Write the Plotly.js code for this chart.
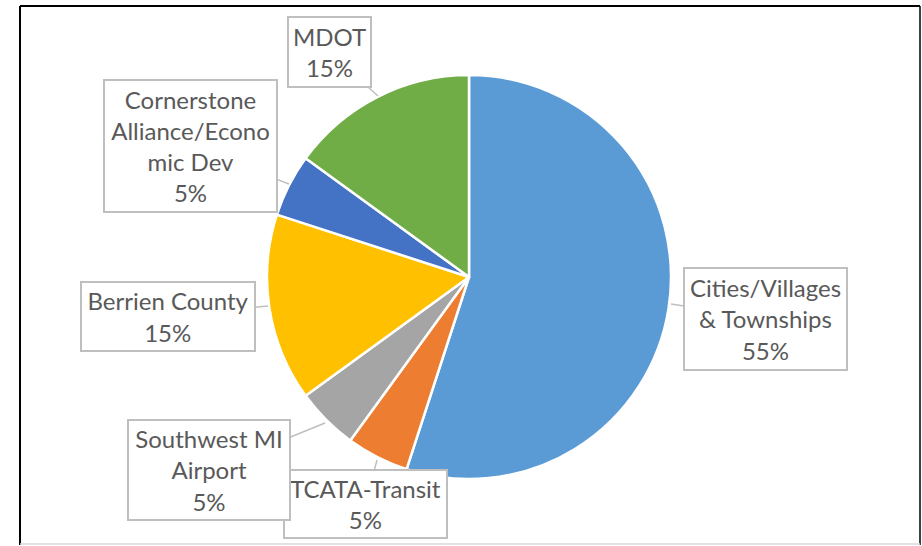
<!DOCTYPE html>
<html>
<head>
<meta charset="utf-8">
<script src="https://cdn.plot.ly/plotly-3.0.1.min.js"></script>
<style>
  html, body { margin: 0; padding: 0; background: #ffffff; }
  #chart { width: 922px; height: 546px; }
</style>
</head>
<body>
<div id="chart"></div>
<script>
// ---- data ----
const categories = [
  'Cities/Villages & Townships',
  'TCATA-Transit',
  'Southwest MI Airport',
  'Berrien County',
  'Cornerstone Alliance/Economic Dev',
  'MDOT'
];
const values = [55, 5, 5, 15, 5, 15];
// label text as wrapped in the reference callouts
const labelLines = [
  ['Cities/Villages', '& Townships'],
  ['TCATA-Transit'],
  ['Southwest MI', 'Airport'],
  ['Berrien County'],
  ['Cornerstone', 'Alliance/Econo', 'mic Dev'],
  ['MDOT']
];
const colors = ['#5B9BD5', '#ED7D31', '#A5A5A5', '#FFC000', '#4472C4', '#70AD47'];

// ---- layout (callout geometry, in pixels) ----
const W = 922, H = 546;
const pieCx = 469, pieCy = 277, pieR = 202;
// callout box centre [x, y], box size [w, h], pointer tip [x, y]
const boxCenter = [[765.5, 319], [365.5, 504], [209, 470], [168, 316.5], [190.5, 146], [329.5, 52]];
const boxSize   = [[165, 104], [165, 70], [164, 102], [176, 71], [175, 134], [85, 72]];
const tipPoint  = [[671, 304], [377, 460], [325, 423], [268, 306], [289, 184], [378, 96]];

const px = x => x / W;
const py = y => 1 - y / H;

const total = values.reduce((a, b) => a + b, 0);

const trace = {
  type: 'pie',
  labels: categories,
  values: values,
  sort: false,
  direction: 'clockwise',
  rotation: 0,
  marker: { colors: colors, line: { color: '#ffffff', width: 2.5 } },
  textinfo: 'none',
  hoverinfo: 'label+percent',
  showlegend: false,
  domain: {
    x: [px(pieCx - pieR), px(pieCx + pieR)],
    y: [py(pieCy + pieR), py(pieCy - pieR)]
  }
};

const annotations = categories.map((c, i) => {
  const pct = Math.round(values[i] / total * 100) + '%';
  const text = labelLines[i].concat([pct]).join('<br>');
  return {
    xref: 'paper', yref: 'paper',
    x: px(tipPoint[i][0]), y: py(tipPoint[i][1]),
    ax: boxCenter[i][0] - tipPoint[i][0],
    ay: boxCenter[i][1] - tipPoint[i][1],
    showarrow: true, arrowhead: 0, arrowwidth: 1.5, arrowcolor: '#BFBFBF', standoff: 0, startstandoff: 0,
    text: text,
    align: 'center', valign: 'middle',
    width: boxSize[i][0] - 4, height: boxSize[i][1] - 4,
    borderpad: 0, borderwidth: 2, bordercolor: '#BFBFBF', bgcolor: '#ffffff',
    font: { family: 'Lato, "Open Sans", sans-serif', size: 24, color: '#595959' }
  };
});

const layout = {
  width: W, height: H,
  margin: { l: 0, r: 0, t: 0, b: 0 },
  paper_bgcolor: '#ffffff',
  plot_bgcolor: '#ffffff',
  showlegend: false,
  annotations: annotations,
  shapes: [
    { type: 'line', xref: 'paper', yref: 'paper', x0: px(20), x1: px(920), y0: py(6), y1: py(6), line: { color: '#000000', width: 2 } },
    { type: 'line', xref: 'paper', yref: 'paper', x0: px(20), x1: px(20), y0: py(6), y1: py(545), line: { color: '#000000', width: 2 } },
    { type: 'line', xref: 'paper', yref: 'paper', x0: px(920), x1: px(920), y0: py(6), y1: py(545), line: { color: '#000000', width: 1.5 } },
    { type: 'line', xref: 'paper', yref: 'paper', x0: px(20), x1: px(920), y0: py(544), y1: py(544), line: { color: '#D9D9D9', width: 1.5 } }
  ]
};

Plotly.newPlot('chart', [trace], layout, { displayModeBar: false, staticPlot: true });
</script>
</body>
</html>
